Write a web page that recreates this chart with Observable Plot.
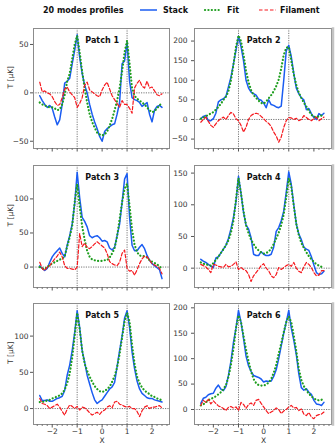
<!DOCTYPE html>
<html><head><meta charset="utf-8">
<script src="https://cdn.jsdelivr.net/npm/d3@7"></script>
<script src="https://cdn.jsdelivr.net/npm/@observablehq/plot@0.6"></script>
<style>
body{margin:0;background:#fff;font-family:"DejaVu Sans",sans-serif}
#wrap{position:relative;width:335px;height:448px;overflow:hidden}
#wrap > svg, #wrap > .p{position:absolute}
</style>
</head><body><div id="wrap"></div>
<script>
// ---------- data ----------
const xs = [-2.5,-2.4,-2.3,-2.2,-2.1,-2.0,-1.9,-1.8,-1.7,-1.6,-1.5,-1.4,-1.3,-1.2,-1.1,-1.0,-0.9,-0.8,-0.7,-0.6,-0.5,-0.4,-0.3,-0.2,-0.1,0.0,0.1,0.2,0.3,0.4,0.5,0.6,0.7,0.8,0.9,1.0,1.1,1.2,1.3,1.4,1.5,1.6,1.7,1.8,1.9,2.0,2.1,2.2,2.3,2.4];

const stack1 = [-3,-8,-12,-15,-13,-16,-25,-33,-28,-12,10,12,15,30,44,60,37,20,8,0,-12,-22,-30,-37,-45,-50,-40,-37,-35,-33,-32,-22,-10,30,33,52,12,-5,-7,-8,-10,-14,-12,-10,-22,-30,-18,-14,-13,-15];
const fit1 = [-10,-12,-13,-14,-15,-15,-16,-18,-17,-12,-2,12,20,35,50,59,42,22,5,-10,-22,-30,-36,-41,-43,-44,-43,-40,-34,-27,-18,-8,5,22,42,54,30,5,-3,-6,-8,-10,-12,-15,-18,-20,-19,-16,-13,-10];
const fil1 = [11,1,2,0,-1,-4,-9,-13,-12,-5,4,6,1,-2,-5,-15,-11,-5,8,11,3,1,-1,-3,-4,3,8,11,4,-3,-7,-11,-15,-8,-12,-12,-16,-21,5,10,13,7,5,12,5,6,2,-2,-3,-1];

const stack2 = [2,8,10,-3,-3,2,16,45,50,53,59,83,108,142,176,212,186,150,100,80,70,66,62,52,49,42,30,50,38,36,32,30,34,100,175,189,160,117,80,66,55,50,25,28,15,5,0,15,10,16];
const fit2 = [2,5,8,12,15,19,25,32,40,50,58,72,100,140,185,214,200,165,125,95,75,62,55,48,42,40,46,54,62,72,85,102,130,165,183,185,150,115,88,68,55,43,33,22,12,7,6,8,10,14];
const fil2 = [-7,0,6,-5,-15,-20,-11,-3,2,6,0,10,18,14,2,-3,-15,-32,-20,0,10,14,16,14,8,2,-5,-10,-18,-32,-42,-58,-45,-20,-3,5,4,0,3,-3,0,10,5,0,-3,2,6,-3,2,6];

const stack3 = [2,-2,-5,-2,7,15,20,24,28,20,15,32,46,63,93,139,102,73,67,59,46,43,45,46,43,38,39,37,28,25,29,46,63,95,129,137,73,32,24,24,29,33,27,17,10,5,2,-1,-4,-17];
const fit3 = [0,-2,-3,0,3,5,7,9,11,12,16,30,44,60,95,122,90,60,40,24,15,11,10,9,9,9,10,10,14,20,28,45,70,95,115,122,90,55,33,22,17,16,16,14,10,8,6,4,1,-3];
const fil3 = [7,-2,-5,0,2,7,12,16,22,15,2,-2,-2,-3,-4,0,49,30,35,29,27,30,34,37,34,31,28,20,8,5,3,2,7,20,25,-2,-6,-5,-12,-4,5,12,16,15,10,5,3,1,-2,-10];

const stack4 = [14,11,9,6,3,1,16,18,24,30,36,47,62,80,105,145,118,88,68,62,48,22,20,20,26,22,20,20,22,33,58,64,75,90,120,152,132,100,70,54,45,33,30,28,18,5,-7,-10,-9,-5];
const fit4 = [9,7,6,5,4,8,13,18,24,30,36,44,56,75,108,142,118,90,68,55,45,38,32,28,25,23,24,26,31,38,47,56,68,85,112,142,128,98,70,52,40,32,25,19,14,10,6,4,2,1];
const fil4 = [6,4,2,-2,-7,6,5,3,2,1,6,2,3,6,10,-2,1,-2,-4,-10,-21,-12,-7,-2,4,7,0,-4,-12,-15,-10,1,-2,1,4,6,3,9,0,-5,-7,2,9,6,1,-7,-12,-11,-4,-4];

const stack5 = [18,11,11,12,10,10,12,14,15,17,25,46,60,80,105,135,112,80,64,46,34,22,12,7,10,12,17,22,27,30,36,58,80,100,125,135,112,78,55,38,27,21,18,15,14,14,12,11,10,9];
const fit5 = [9,9,10,11,12,14,15,17,18,21,26,35,48,70,100,132,110,80,62,52,44,37,31,27,24,23,24,27,30,37,45,57,75,98,120,132,120,88,62,44,35,29,25,22,20,17,16,14,13,11];
const fil5 = [14,7,6,4,0,2,4,6,2,-4,-9,-1,5,3,0,3,-2,2,1,-2,-6,-9,-7,-5,-8,-4,-2,2,4,1,9,10,6,5,3,2,3,0,0,-4,-11,-3,2,4,0,2,2,3,4,1];

const stack6 = [12,22,24,29,31,32,42,48,40,37,45,67,95,132,160,195,172,140,105,86,75,67,65,63,60,54,56,55,56,65,78,100,125,150,172,195,160,136,108,70,43,38,41,34,30,18,11,10,8,14];
const fit6 = [8,10,14,18,21,23,26,30,34,40,48,64,88,120,160,185,172,145,118,95,75,60,52,48,47,47,49,53,60,72,88,110,130,152,172,183,172,145,115,80,58,46,38,31,26,22,19,18,19,21];
const fil6 = [8,18,14,20,11,17,12,7,5,2,-2,4,6,3,5,-2,14,10,2,10,13,8,18,20,12,5,-2,-8,-5,-2,3,0,-8,-3,0,5,8,3,4,-2,1,-9,-12,-6,-15,-18,-12,-10,-9,-5];

const titles = ["Patch 1","Patch 2","Patch 3","Patch 4","Patch 5","Patch 6"];
const yTicks1 = [-50,0,50];
const yTicks2 = [-50,0,50,100,150,200];
const yTicks3 = [0,50,100];
const yTicks4 = [0,50,100,150];
const yTicks5 = [0,50,100];
const yTicks6 = [0,50,100,150,200];
const xTicks = [-2,-1,0,1,2];
const xMinor = [-2.6,-2.4,-2.2,-1.8,-1.6,-1.4,-1.2,-0.8,-0.6,-0.4,-0.2,0.2,0.4,0.6,0.8,1.2,1.4,1.6,1.8,2.2,2.4,2.6];
const legendLabels = ["Stack","Fit","Filament"];
const legendTitle = "20 modes profiles";
const yLabel = "T [μK]";
const xLabel = "X";

// ---------- styles ----------
const C_STACK = "#1a5cf2", C_FIT = "#1e9e1e", C_FIL = "#f5191e";
const XDOM = [-2.75, 2.7];
const minus = d => (d < 0 ? "\u2212" + Math.abs(d) : String(d));

const panels = [
  {stack: stack1, fit: fit1, fil: fil1, ydom: [-57.5, 66.5], yt: yTicks1, col: 0, row: 0},
  {stack: stack2, fit: fit2, fil: fil2, ydom: [-74, 232], yt: yTicks2, col: 1, row: 0},
  {stack: stack3, fit: fit3, fil: fil3, ydom: [-30, 149], yt: yTicks3, col: 0, row: 1},
  {stack: stack4, fit: fit4, fil: fil4, ydom: [-30.5, 162], yt: yTicks4, col: 1, row: 1},
  {stack: stack5, fit: fit5, fil: fil5, ydom: [-22, 145], yt: yTicks5, col: 0, row: 2},
  {stack: stack6, fit: fit6, fil: fil6, ydom: [-29.5, 208.5], yt: yTicks6, col: 1, row: 2}
];
const cols = [{left: 0, width: 171, ml: 33, mr: 2, pad: 2}, {left: 170, width: 165, ml: 24, mr: 4, pad: 4}];
const rows = [{top: 26, frame: 120, mb: 4}, {top: 163, frame: 122, mb: 4}, {top: 301, frame: 121, mb: 26}];

const wrap = document.getElementById("wrap");

panels.forEach((p, i) => {
  const c = cols[p.col], r = rows[p.row];
  const bottom = p.row === 2;
  const data = xs.map((x, k) => ({x, stack: p.stack[k], fit: p.fit[k], fil: p.fil[k]}));
  const marks = [
    Plot.ruleX([-1, 1], {stroke: "#555", strokeWidth: 0.8, strokeDasharray: "1.2,1.2"}),
    Plot.ruleY([0], {stroke: "#555", strokeWidth: 0.8, strokeDasharray: "1.2,1.2"}),
    Plot.line(data, {x: "x", y: "stack", stroke: C_STACK, strokeWidth: 1.5}),
    Plot.line(data, {x: "x", y: "fit", stroke: C_FIT, strokeWidth: 2.2, strokeDasharray: "0.1,3.3", strokeLinecap: "round"}),
    Plot.line(data, {x: "x", y: "fil", stroke: C_FIL, strokeWidth: 1.2, strokeDasharray: "3.5,2"}),
    Plot.frame({stroke: "#8c8c8c", strokeWidth: 1}),
    Plot.axisX(xMinor, {tickSize: 2, tickFormat: () => "", stroke: "#777", label: null}),
    Plot.axisX(xTicks, {tickSize: 3.5, tickPadding: 1, stroke: "#555", label: null,
      tickFormat: bottom ? minus : () => "", fontSize: 7.5, fill: "#333"}),
    Plot.axisY(p.yt, {tickSize: 3, tickPadding: c.pad, stroke: "#555", label: null,
      tickFormat: minus, fontSize: 7.5, fill: "#333"}),
    Plot.text([{x: 0, t: titles[i]}], {x: "x", text: "t", frameAnchor: "top", dy: 9,
      fontWeight: "bold", fontSize: 8, fill: "#111"})
  ];
  if (p.col === 0) {
    marks.push(Plot.text([yLabel], {frameAnchor: "left", dx: -23, rotate: -90, fontSize: 7.5, fill: "#333"}));
  }
  if (bottom) {
    marks.push(Plot.text([{x: 0, t: xLabel}], {x: "x", text: "t", frameAnchor: "bottom", dy: 18.5, fontSize: 7.5, fill: "#333"}));
  }
  if (p.col === 1) {
    marks.push(Plot.frame({anchor: "right", stroke: "#c4c4c4", strokeWidth: 2.5, dx: 1.5}));
  }
  const svg = Plot.plot({
    width: c.width,
    height: 2 + r.frame + r.mb,
    marginLeft: c.ml, marginRight: c.mr, marginTop: 2, marginBottom: r.mb,
    style: {fontFamily: "DejaVu Sans", fontSize: "7.5px", background: "transparent", overflow: "visible"},
    x: {domain: XDOM},
    y: {domain: p.ydom},
    marks
  });
  svg.style.position = "absolute";
  svg.style.left = c.left + "px";
  svg.style.top = r.top + "px";
  wrap.appendChild(svg);
});

// ---------- legend ----------
const ns = "http://www.w3.org/2000/svg";
const lg = document.createElementNS(ns, "svg");
lg.setAttribute("width", 335); lg.setAttribute("height", 22);
lg.style.position = "absolute"; lg.style.left = "0px"; lg.style.top = "0px";
lg.style.fontFamily = "DejaVu Sans";
function txt(x, s) {
  const t = document.createElementNS(ns, "text");
  t.setAttribute("x", x); t.setAttribute("y", 10);
  t.setAttribute("dy", "0.35em");
  t.setAttribute("font-size", 8); t.setAttribute("font-weight", "bold"); t.setAttribute("fill", "#111");
  t.textContent = s; lg.appendChild(t);
}
function seg(x1, x2, color, w, dash, cap) {
  const l = document.createElementNS(ns, "line");
  l.setAttribute("x1", x1); l.setAttribute("x2", x2); l.setAttribute("y1", 10); l.setAttribute("y2", 10);
  l.setAttribute("stroke", color); l.setAttribute("stroke-width", w);
  if (dash) l.setAttribute("stroke-dasharray", dash);
  if (cap) l.setAttribute("stroke-linecap", cap);
  lg.appendChild(l);
}
txt(43, legendTitle);
seg(140, 157, C_STACK, 1.5);
txt(163, legendLabels[0]);
seg(205, 221, C_FIT, 2.2, "0.1,3.3", "round");
txt(227, legendLabels[1]);
seg(259, 276, C_FIL, 1.2, "3.5,2");
txt(280, legendLabels[2]);
wrap.appendChild(lg);
</script>
</body></html>
